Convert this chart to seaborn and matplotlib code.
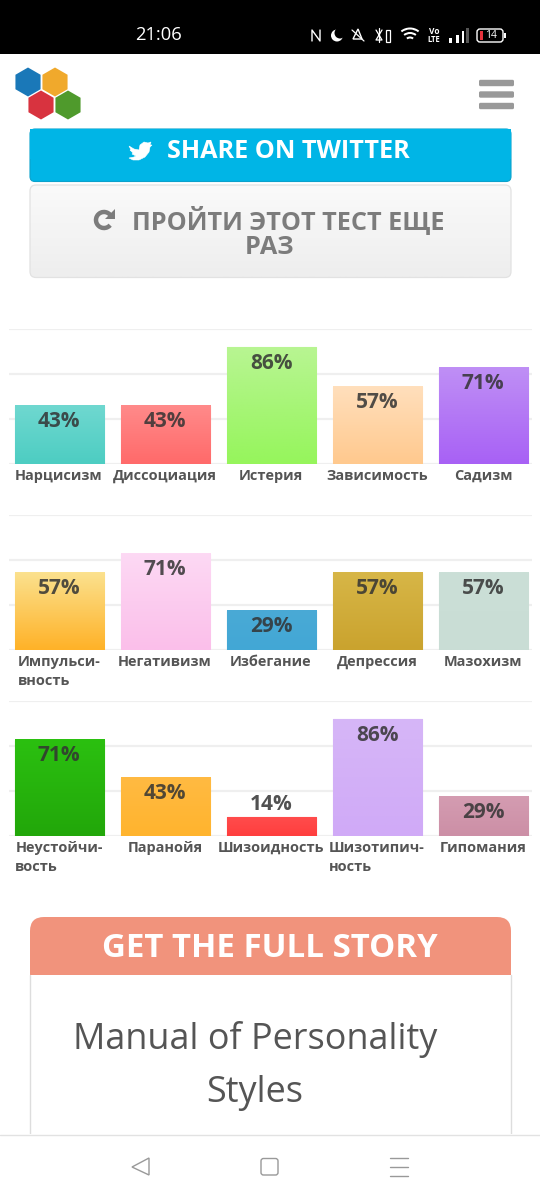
import numpy as np
import seaborn as sns
import matplotlib.pyplot as plt
from matplotlib.patches import FancyBboxPatch, RegularPolygon, Rectangle, Polygon, Arc, Wedge, Circle
from matplotlib.colors import LinearSegmentedColormap

labels1 = ['Нарцисизм', 'Диссоциация', 'Истерия', 'Зависимость', 'Садизм']
labels2 = ['Импульси-\nвность', 'Негативизм', 'Избегание', 'Депрессия', 'Мазохизм']
labels3 = ['Неустойчи-\nвость', 'Паранойя', 'Шизоидность', 'Шизотипич-\nность', 'Гипомания']
values1 = [43, 43, 86, 57, 71]
values2 = [57, 71, 29, 57, 57]
values3 = [71, 43, 14, 86, 29]
colors1 = [('#6fd8d0', '#4dcdc2'), ('#ff8a8a', '#ff6a6a'), ('#b8f592', '#96f55c'), ('#ffdfbc', '#ffc98e'), ('#bf8ff5', '#a861f5')]
colors2 = [('#fbe18e', '#ffb228'), ('#fdd9f4', '#fbbfea'), ('#4aaad5', '#42a7d6'), ('#d7b647', '#caa32e'), ('#cbdfd7', '#c9ddd5')]
colors3 = [('#2bc010', '#22a70a'), ('#ffba42', '#ffb42e'), ('#ff4c4c', '#ff3e3e'), ('#d6b6f7', '#d0aaf7'), ('#d49cb1', '#cc8fa6')]
rows = [(labels1, values1, colors1, 464), (labels2, values2, colors2, 650), (labels3, values3, colors3, 836)]

sns.set_theme(style='white')
plt.rcParams['font.family'] = ['Open Sans', 'DejaVu Sans']

W, H = 540, 1200
fig = plt.figure(figsize=(W / 100, H / 100), dpi=100, facecolor='white')

# page furniture, in pixels
page = fig.add_axes([0, 0, 1, 1], zorder=0)
page.set_xlim(0, W)
page.set_ylim(H, 0)
page.axis('off')


def box(x0, y0, x1, y1, fc, ec='none', r=5, lw=1, z=1):
    p = FancyBboxPatch((x0 + r, y0 + r), x1 - x0 - 2 * r, y1 - y0 - 2 * r, boxstyle=f'round,pad={r},rounding_size={r}',
                       fc=fc, ec=ec, lw=lw, zorder=z)
    page.add_patch(p)
    return p


def vgrad(top, bottom, extent, clip, z=2):
    cmap = LinearSegmentedColormap.from_list('g', [top, bottom])
    im = page.imshow(np.linspace(0, 1, 64).reshape(-1, 1), cmap=cmap, extent=extent, aspect='auto', zorder=z)
    im.set_clip_path(clip)
    page.set_xlim(0, W)
    page.set_ylim(H, 0)


# status bar
page.add_patch(Rectangle((0, 0), W, 54, fc='black', ec='none'))
page.text(158.5, 35, '21:06', color='white', fontsize=13.2, ha='center', va='center')
page.plot([312, 312, 320, 320], [41, 30, 41, 30], color='white', lw=1)
page.add_patch(Circle((337, 35.5), 6, fc='white', ec='none', zorder=2))
page.add_patch(Circle((340, 33), 5.5, fc='black', ec='none', zorder=2))
page.add_patch(Polygon([(358, 29), (362, 39), (353, 39)], closed=True, fc='none', ec='white', lw=1))
page.plot([352, 364], [30, 41], color='white', lw=0.9)
page.plot([376, 382, 376, 382], [30, 40, 40, 30], color='white', lw=0.9)
page.plot([379, 379], [28, 42], color='white', lw=0.9)
page.add_patch(Rectangle((386, 30), 4, 12, fc='none', ec='white', lw=0.9))
for rad in [15, 10.5, 6]:
    page.add_patch(Wedge((410, 42.5), rad, 232, 308, width=2, fc='white', ec='none'))
page.text(434, 31.5, 'Vo', color='white', fontsize=6, ha='center', va='center', fontweight='bold')
page.text(434, 40, 'LTE', color='white', fontsize=5.5, ha='center', va='center', fontweight='bold')
for bx, bt, col in zip([449, 456, 461.5, 466], [38, 35, 31, 28], ['white', 'white', 'white', '#555555']):
    page.add_patch(Rectangle((bx, bt), 2.5, 43 - bt, fc=col, ec='none'))
box(477, 29, 503, 42, 'black', 'white', r=3, lw=1)
page.add_patch(Rectangle((479.5, 31), 3, 9, fc='#e8323c', ec='none', zorder=3))
page.add_patch(Rectangle((504, 33), 2, 5, fc='white', ec='none'))
page.text(491, 35.5, '14', color='white', fontsize=7.5, ha='center', va='center', zorder=3)

# logo and menu
for cx, cy, col in [(28, 82, '#1a78b8'), (55, 82, '#f0a92c'), (41, 105, '#d8333f'), (68, 105, '#4f9a2c')]:
    page.add_patch(RegularPolygon((cx, cy), numVertices=6, radius=14.5, fc=col, ec='none'))
for my in [83, 94.5, 106]:
    box(479, my - 3.2, 514, my + 3.2, '#999999', r=1.5)

# twitter button
box(30, 129, 511, 181.5, '#00b5e6', '#0ba2cc', r=5, lw=0.8)
page.add_patch(Rectangle((29.6, 129), 481.8, 30, fc='#00b5e6', ec='none', zorder=2))
page.text(288, 151, 'SHARE ON TWITTER', color='white', fontsize=18.2, fontweight='bold', ha='center', va='center', zorder=4)
bird = [(129, 146), (134, 149), (139, 150), (140, 145), (144, 142), (148, 143), (151, 142), (150, 145), (152, 145), (150, 147),
        (149, 152), (145, 157), (139, 160), (133, 160), (129, 158), (134, 157), (136, 156), (132, 154), (133, 153), (130, 150), (131, 150)]
page.add_patch(Polygon(bird, closed=True, fc='white', ec='white', lw=0.4, zorder=4))

# retry button
retry = box(30, 185, 511, 277.5, 'none', '#e2e2e2', r=6, lw=0.9, z=3)
clip = box(30, 185, 511, 277.5, '#f4f4f4', r=6)
vgrad('#fafafa', '#eeeeee', (30, 511, 277.5, 185), clip)
page.text(288, 220.5, 'ПРОЙТИ ЭТОТ ТЕСТ ЕЩЕ', color='#7c7c7c', fontsize=18.2, fontweight='bold', ha='center', va='center', zorder=4)
page.text(270, 247.5, 'РАЗ', color='#7c7c7c', fontsize=18.2, fontweight='bold', ha='center', va='center', zorder=4)
page.add_patch(Arc((104, 220), 16, 16, theta1=-320, theta2=-20, color='#7c7c7c', lw=3.2, zorder=4))
page.add_patch(Polygon([(115, 209), (115, 219), (105, 219)], closed=True, fc='#7c7c7c', ec='none', zorder=4))

# full story panel
box(30, 917, 511, 990, '#f1937c', r=14, z=2)
page.add_patch(Rectangle((29, 975), 483, 30, fc='white', ec='none', zorder=2))
page.plot([30, 30], [975, 1134], color='#dddddd', lw=1, zorder=3)
page.plot([511, 511], [975, 1134], color='#dddddd', lw=1, zorder=3)
page.text(270, 948.5, 'GET THE FULL STORY', color='white', fontsize=23.8, fontweight='bold', ha='center', va='center', zorder=4)
page.text(255.5, 1039, 'Manual of Personality', color='#555555', fontsize=25.9, ha='center', va='center', zorder=4)
page.text(255, 1093, 'Styles', color='#555555', fontsize=25.9, ha='center', va='center', zorder=4)

# nav bar
page.add_patch(Rectangle((0, 1134), W, 66, fc='white', ec='none', zorder=5))
page.plot([0, W], [1134.5, 1134.5], color='#e2e2e2', lw=1, zorder=6)
page.add_patch(Polygon([(132, 1167), (149, 1158), (149, 1175)], closed=True, fc='none', ec='#999999', lw=1, zorder=6))
box(261, 1158.5, 278, 1175, 'none', '#999999', r=2.5, lw=1, z=6)
for ny in [1158, 1167, 1175.5]:
    page.plot([390, 408], [ny, ny], color='#999999', lw=1, zorder=6)

# the three bar rows
for names, vals, cols, base in rows:
    ax = fig.add_axes([9 / W, 1 - base / H, 523 / W, 135.5 / H], zorder=2)
    ax.patch.set_alpha(0)
    sns.barplot(x=names, y=vals, hue=names, palette=[c[1] for c in cols], width=0.84, ax=ax, legend=False, saturation=1, zorder=2)
    ax.set_yticks([0, 100 / 3, 200 / 3, 100])
    ax.set_yticklabels([])
    ax.set_xlabel('')
    ax.set_ylabel('')
    ax.grid(axis='y', color='#efefef', lw=1.6)
    ax.set_axisbelow(True)
    sns.despine(ax=ax, left=True, bottom=True)
    ax.tick_params(axis='both', length=0)
    ax.tick_params(axis='x', pad=3.6)
    for t in ax.get_xticklabels():
        t.set(fontsize=10.45, fontweight='bold', color='#555555', multialignment='left', linespacing=1.42, va='top')
    for bar, val, (top, bottom) in zip(ax.patches, vals, cols):
        cmap = LinearSegmentedColormap.from_list('g', [top, bottom])
        x0, w, h = bar.get_x(), bar.get_width(), bar.get_height()
        ax.imshow(np.linspace(0, 1, 64).reshape(-1, 1), cmap=cmap, extent=(x0, x0 + w, 0, h), aspect='auto', zorder=3)
        bar.set_edgecolor(top)
        bar.set_linewidth(0.8)
        # the short bar has no room for its label, it sits above instead
        off = 2 if val < 20 else -16
        ax.annotate(f'{val}%', (x0 + w / 2, h), xytext=(0, off * 0.72), textcoords='offset points', ha='center',
                    va='bottom' if val < 20 else 'center', fontsize=15, fontweight='bold', color='#333333', alpha=0.85, zorder=5)
    ax.set_xlim(-0.472, 4.462)
    ax.set_ylim(0, 100)

fig.savefig('out.png', dpi=100)
